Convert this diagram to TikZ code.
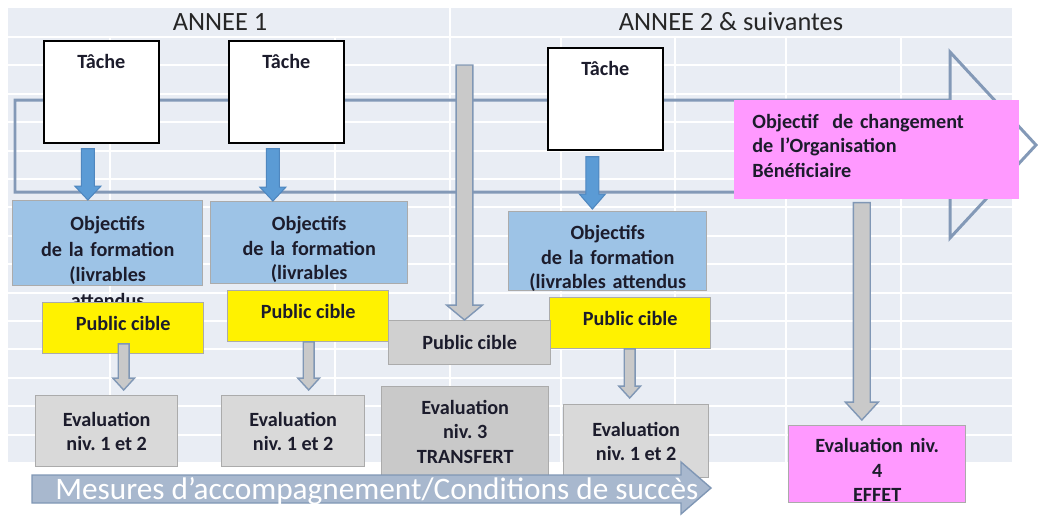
\documentclass[tikz,border=0pt]{standalone}
\usepackage{fontspec}
\setmainfont{Carlito}
\usepackage{tikz}
\usetikzlibrary{calc,positioning}
\frenchspacing

\definecolor{gridbg}{HTML}{E9EDF4}
\definecolor{outlinecol}{HTML}{8399B7}
\definecolor{bluefill}{HTML}{5B9BD5}
\definecolor{blueedge}{HTML}{4F87BF}
\definecolor{objblue}{HTML}{9DC3E6}
\definecolor{boxgrey}{HTML}{ABABAB}
\definecolor{pcgrey}{HTML}{D0D0D0}
\definecolor{evalgrey}{HTML}{D9D9D9}
\definecolor{evaldark}{HTML}{C9C9C9}
\definecolor{pinkfill}{HTML}{FF99FF}
\definecolor{arrgrey}{HTML}{C9C9C9}
\definecolor{arredge}{HTML}{8097B5}
\definecolor{mesfill}{HTML}{A8B8CE}
\definecolor{inktext}{HTML}{1C1C2C}
\definecolor{headtext}{HTML}{262626}

% fat vertical arrow: style, from, to, half shaft, half head, head length
\newcommand{\fatarrow}[6]{%
  \path[#1] let \p1=(#2), \p2=(#3) in
    (\x1-#4,\y1) -- (\x1+#4,\y1) -- (\x1+#4,\y2+#6) -- (\x1+#5,\y2+#6)
    -- (\x1,\y2) -- (\x1-#5,\y2+#6) -- (\x1-#4,\y2+#6) -- cycle;
}

\begin{document}
\begin{tikzpicture}[
    x=0.02cm, y=-0.02cm,
    every node/.style={font=\fontsize{11.5}{13.9}\selectfont\bfseries, text=inktext, inner sep=0pt},
    header/.style={font=\fontsize{15}{18}\selectfont, text=headtext},
    tache/.style={draw=black, line width=1pt, fill=white, minimum width=2.3cm,
        text height=0.56cm, text depth=1.48cm, anchor=north west},
    objectif/.style={fill=objblue, draw=boxgrey, line width=0.8pt, align=center, anchor=north west},
    public/.style={fill=yellow, draw=boxgrey, line width=0.8pt, minimum width=3.22cm,
        text height=0.55cm, text depth=0.46cm, anchor=north west},
    evaluation/.style={fill=evalgrey, draw=boxgrey, line width=0.8pt, align=center, anchor=north west},
    pinkbox/.style={fill=pinkfill, anchor=north west},
    mestext/.style={font=\fontsize{17.8}{20}\selectfont, text=white},
    outline/.style={draw=outlinecol, line width=1.7pt, line join=miter},
    mesarrow/.style={fill=mesfill, draw=arredge, line width=0.8pt},
    bluearrow/.style={fill=bluefill, draw=blueedge, line width=0.6pt},
    greyarrow/.style={fill=arrgrey, draw=arredge, line width=0.8pt},
    gridline/.style={white, line width=1.1pt}
]
\useasboundingbox (0,0) rectangle (1038,515);

% table in the background
\fill[gridbg] (8,8) rectangle (1012,462);
\foreach \k in {0,...,14}
    \draw[gridline] (8,{37+28.4*\k}) -- (1012,{37+28.4*\k});
\foreach \gx in {110,335,561,675,786,901}
    \draw[gridline] (\gx,37) -- (\gx,462);
\draw[gridline] (450,8) -- (450,462);

\node[header] (an1) at (220,22) {ANNEE 1};
\node[header] (an2) at (731,22) {ANNEE 2 \& suivantes};

% big outline arrow
\draw[outline] (15,100) -- (950,100) -- (950,52) -- (1036,145) -- (950,238)
    -- (950,192) -- (15,192) -- cycle;

% boxes
\node[tache] (t1) at (43,40) {Tâche};
\node[tache] (t2) at (228,40) {Tâche};
\node[tache] (t3) at (547,47) {Tâche};

\node[objectif, text width=3.8cm, text height=0.6cm, text depth=1.1cm,
    font=\fontsize{11.5}{14.5}\selectfont\bfseries] (o1) at (12,200)
    {Objectifs\\de la formation\\(livrables\\attendus};
\node[objectif, text width=3.94cm, text height=0.58cm, text depth=1.06cm] (o2) at (210,201)
    {Objectifs\\de la formation\\(livrables};
\node[objectif, text width=3.96cm, text height=0.56cm, text depth=1.02cm] (o3) at (508,211)
    {Objectifs\\de la formation\\(livrables attendus};

\node[public] (p1) at (42,302) {Public cible};
\node[public] (p2) at (227,290) {Public cible};
\node[public] (p3) at (549,297) {Public cible};
\node[evaluation, fill=pcgrey, minimum width=3.24cm, minimum height=0.88cm] (p0) at (388,320) {Public cible};

\node[evaluation, minimum width=2.84cm, minimum height=1.42cm] (e1) at (35,395) {Evaluation\\niv. 1 et 2};
\node[evaluation, minimum width=2.86cm, minimum height=1.42cm] (e2) at (221,395) {Evaluation\\niv. 1 et 2};
\node[evaluation, fill=evaldark, minimum width=3.34cm, minimum height=1.8cm] (e3) at (381,386)
    {Evaluation\\niv. 3\\TRANSFERT};
\node[evaluation, minimum width=2.9cm, minimum height=1.46cm] (e4) at (563,404) {Evaluation\\niv. 1 et 2};

% arrows
\fatarrow{bluearrow}{$(t1.south)+(-13.5,5)$}{o1.north}{3.7pt}{7.4pt}{7.9pt}
\fatarrow{bluearrow}{$(t2.south)+(-13.5,5)$}{o2.north}{3.7pt}{7.4pt}{7.9pt}
\fatarrow{bluearrow}{$(t3.south)+(-13,6)$}{$(o3.north)+(0,-2)$}{3.7pt}{7.4pt}{8.5pt}

\coordinate (g1top) at (464.5,65);
\fatarrow{greyarrow}{g1top}{p0.north}{4.8pt}{10.2pt}{8.5pt}

\fatarrow{greyarrow}{$(p1.south)+(0.5,-10)$}{$(e1.north)+(0,-5)$}{3.1pt}{6.2pt}{6.8pt}
\fatarrow{greyarrow}{$(p2.south)+(0.5,0)$}{$(e2.north)+(0,-5)$}{3.1pt}{6.2pt}{6.8pt}
\fatarrow{greyarrow}{$(p3.south)+(-0.5,0)$}{$(e4.north)+(0,-6)$}{3.1pt}{6.2pt}{6.8pt}

% change objective and level 4
\node[pinkbox, text width=4.98cm, inner xsep=0.36cm, align=left, text height=0.56cm, text depth=1.42cm]
    (obj) at (734,100) {Objectif\ \ de changement\\de l'Organisation\\Bénéficiaire};
\node[pinkbox, draw=boxgrey, line width=0.8pt, text width=3.54cm, align=center,
    text height=0.54cm, text depth=1.0cm] (e5) at (788,425) {Evaluation niv.\\4\\EFFET};
\fatarrow{greyarrow}{$(obj.south)+(-15,3)$}{$(e5.north)+(0,-5)$}{4.8pt}{9.4pt}{10.2pt}

% accompanying measures
\path[mesarrow] (32,475) -- (681,475) -- (681,462) -- (711,488) -- (681,514)
    -- (681,503) -- (32,503) -- cycle;
\node[mestext, anchor=base west] (mes) at (55,499) {Mesures d’accompagnement/Conditions de succès};
\end{tikzpicture}
\end{document}
